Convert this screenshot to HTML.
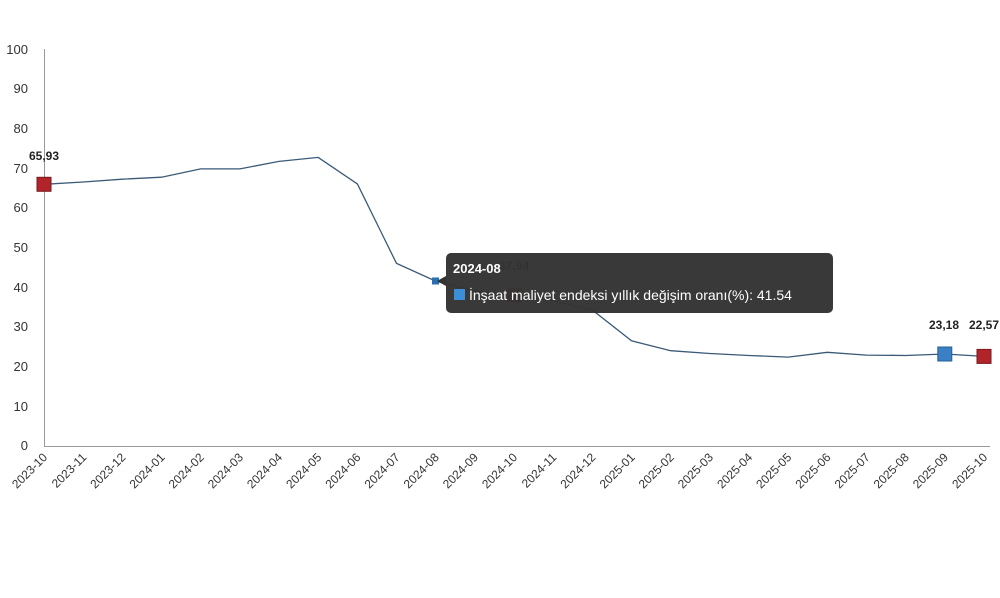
<!DOCTYPE html>
<html><head><meta charset="utf-8"><style>
body{margin:0;background:#fff;}
svg text{font-family:"Liberation Sans",sans-serif;}
</style></head><body>
<svg width="1000" height="593" xmlns="http://www.w3.org/2000/svg">
<g font-size="13" fill="#333" text-anchor="end">
<text x="28" y="54">100</text><text x="28" y="93">90</text><text x="28" y="133">80</text>
<text x="28" y="173">70</text><text x="28" y="212">60</text><text x="28" y="252">50</text>
<text x="28" y="292">40</text><text x="28" y="331">30</text><text x="28" y="371">20</text>
<text x="28" y="411">10</text><text x="28" y="450">0</text>
</g>
<line x1="44.5" y1="49" x2="44.5" y2="446" stroke="#999"/>
<line x1="44" y1="446.5" x2="990" y2="446.5" stroke="#999"/>
<g font-size="12" fill="#333" text-anchor="end">
<text x="48" y="458" transform="rotate(-45 48 458)">2023-10</text>
<text x="87.2" y="458" transform="rotate(-45 87.2 458)">2023-11</text>
<text x="126.3" y="458" transform="rotate(-45 126.3 458)">2023-12</text>
<text x="165.5" y="458" transform="rotate(-45 165.5 458)">2024-01</text>
<text x="204.7" y="458" transform="rotate(-45 204.7 458)">2024-02</text>
<text x="243.9" y="458" transform="rotate(-45 243.9 458)">2024-03</text>
<text x="283" y="458" transform="rotate(-45 283 458)">2024-04</text>
<text x="322.2" y="458" transform="rotate(-45 322.2 458)">2024-05</text>
<text x="361.4" y="458" transform="rotate(-45 361.4 458)">2024-06</text>
<text x="400.5" y="458" transform="rotate(-45 400.5 458)">2024-07</text>
<text x="439.7" y="458" transform="rotate(-45 439.7 458)">2024-08</text>
<text x="478.9" y="458" transform="rotate(-45 478.9 458)">2024-09</text>
<text x="518" y="458" transform="rotate(-45 518 458)">2024-10</text>
<text x="557.2" y="458" transform="rotate(-45 557.2 458)">2024-11</text>
<text x="596.4" y="458" transform="rotate(-45 596.4 458)">2024-12</text>
<text x="635.6" y="458" transform="rotate(-45 635.6 458)">2025-01</text>
<text x="674.7" y="458" transform="rotate(-45 674.7 458)">2025-02</text>
<text x="713.9" y="458" transform="rotate(-45 713.9 458)">2025-03</text>
<text x="753.1" y="458" transform="rotate(-45 753.1 458)">2025-04</text>
<text x="792.2" y="458" transform="rotate(-45 792.2 458)">2025-05</text>
<text x="831.4" y="458" transform="rotate(-45 831.4 458)">2025-06</text>
<text x="870.6" y="458" transform="rotate(-45 870.6 458)">2025-07</text>
<text x="909.7" y="458" transform="rotate(-45 909.7 458)">2025-08</text>
<text x="948.9" y="458" transform="rotate(-45 948.9 458)">2025-09</text>
<text x="988.1" y="458" transform="rotate(-45 988.1 458)">2025-10</text>
</g>
<polyline fill="none" stroke="#3a5a78" stroke-width="1.3" points="44,184.3 83.2,182 122.3,179.2 161.5,177.2 200.7,168.9 239.9,168.9 279,161.4 318.2,157.4 357.4,184 396.5,263.4 435.7,281.1 474.9,291.2 514,295.4 553.2,301 592.3,310 631.5,340.8 670.7,350.7 709.8,353.5 749,355.5 788.2,357.1 827.3,352.3 866.5,355.1 905.7,355.5 944.8,354 984,356.4"/>
<rect x="37" y="177.3" width="14" height="14" fill="#b0242a" stroke="#7a1a1e"/>
<rect x="977" y="349.4" width="14" height="14" fill="#b0242a" stroke="#7a1a1e"/>
<rect x="507" y="288.4" width="14" height="14" fill="#b0242a"/>
<rect x="937.8" y="347" width="14" height="14" fill="#3b7fc4" stroke="#2a5f95"/>
<rect x="432" y="277.5" width="7" height="7" fill="#2a6fb0"/>
<g font-size="12" font-weight="bold" fill="#222" text-anchor="middle">
<text x="44" y="160">65,93</text><text x="944" y="329">23,18</text><text x="984" y="329">22,57</text><text x="514" y="270">37,94</text>
</g>
<rect x="446" y="253" width="387" height="60" rx="5" fill="#333" fill-opacity="0.97"/>
<path d="M446,276 L437,281 L446,286 Z" fill="#333"/>
<text x="453" y="273" font-size="13" font-weight="bold" fill="#fff">2024-08</text>
<rect x="454" y="289" width="11" height="11" fill="#3b8fd6"/>
<text x="469" y="300" font-size="14" fill="#fff">İnşaat maliyet endeksi yıllık değişim oranı(%): 41.54</text>
</svg>
</body></html>
